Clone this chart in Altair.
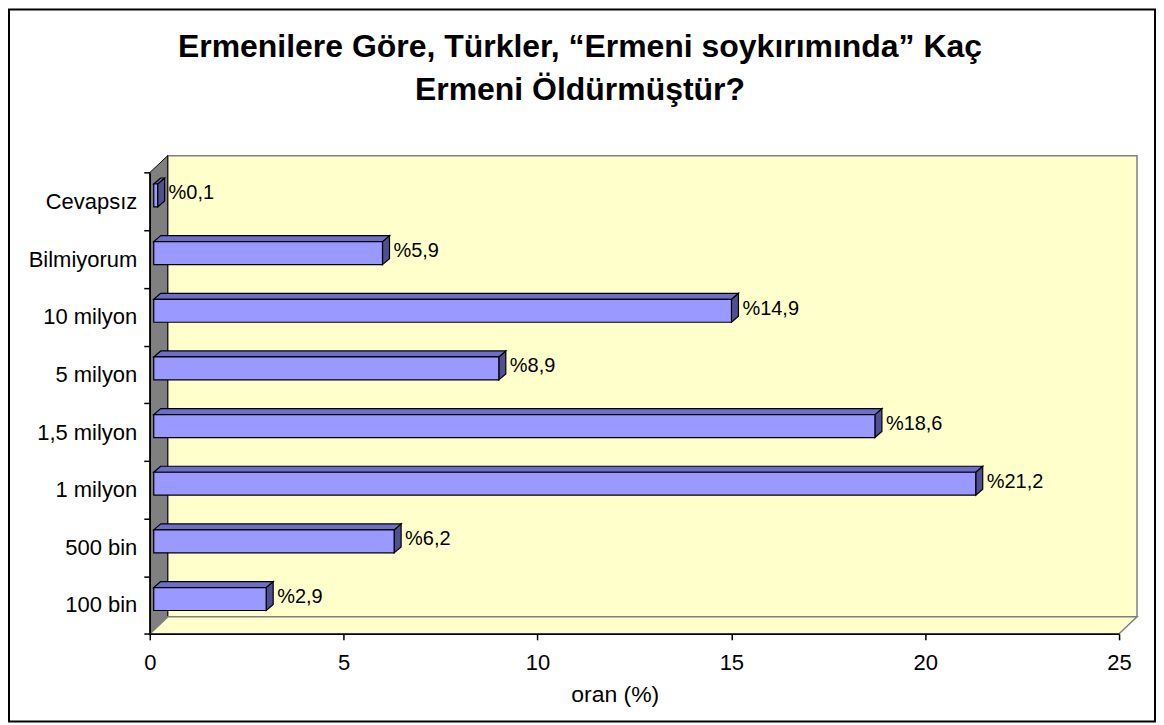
import altair as alt
import pandas as pd

# ---------------- data ----------------
categories = ["100 bin", "500 bin", "1 milyon", "1,5 milyon", "5 milyon",
              "10 milyon", "Bilmiyorum", "Cevapsız"]
values = [2.9, 6.2, 21.2, 18.6, 8.9, 14.9, 5.9, 0.1]
x_ticks = [0, 5, 10, 15, 20, 25]
title_lines = ["Ermenilere Göre, Türkler, “Ermeni soykırımında” Kaç",
               "Ermeni Öldürmüştür?"]
x_title = "oran (%)"

# ---------------- layout / style (pixels) ----------------
W, H = 1148, 713            # view = outer frame
X0, X1 = 141, 1112          # x scale range inside view
Y0, Y1 = 625.3, 163.3       # y scale range (bottom, top)
XMAX = 25
N = len(categories)
kx = (X1 - X0) / XMAX       # px per x unit
ky = (Y0 - Y1) / N          # px per category

WALL_DX, WALL_DY = 18, 17   # 3-D depth of the walls
BAR_DX, BAR_DY = 4, 6       # bar plane shift
BAR_H = 23                  # bar front-face thickness
FACE_DX, FACE_DY = 7, 6     # bar depth

FONT = "Liberation Sans"
WALL_FILL = "#FFFFCC"
SIDE_WALL = "#808080"
BAR_FRONT = "#9999FF"
BAR_TOP = "#6E6EC8"
BAR_SIDE = "#505090"

ux = lambda px: px / kx
uy = lambda px: px / ky

# ---------------- derived tables ----------------
front_rows, top_rows, side_rows = [], [], []
for i, (cat, v) in enumerate(zip(categories, values)):
    c = i + 0.5 + uy(BAR_DY)
    x0 = ux(BAR_DX)
    x1 = x0 + v
    y0 = c - uy(BAR_H / 2)
    y1 = c + uy(BAR_H / 2)
    front_rows.append(dict(cat=cat, x0=x0, x1=x1, y0=y0, y1=y1, c=c,
                           label="%" + str(v).replace(".", ",")))
    top_rows.append(dict(cat=cat, yy=y1, xa=x0, xb=x1))
    top_rows.append(dict(cat=cat, yy=y1 + uy(FACE_DY), xa=x0 + ux(FACE_DX), xb=x1 + ux(FACE_DX)))
    side_rows.append(dict(cat=cat, xx=x1, ya=y0, yb=y1))
    side_rows.append(dict(cat=cat, xx=x1 + ux(FACE_DX), ya=y0 + uy(FACE_DY), yb=y1 + uy(FACE_DY)))

front = pd.DataFrame(front_rows)
top = pd.DataFrame(top_rows)
side = pd.DataFrame(side_rows)

back_wall = pd.DataFrame([dict(x0=ux(WALL_DX), x1=XMAX + ux(WALL_DX),
                               y0=uy(WALL_DY), y1=N + uy(WALL_DY))])
left_wall = pd.DataFrame([dict(xx=0, ya=0, yb=N),
                          dict(xx=ux(WALL_DX), ya=uy(WALL_DY), yb=N + uy(WALL_DY))])
floor = pd.DataFrame([dict(yy=0, xa=0, xb=XMAX),
                      dict(yy=uy(WALL_DY), xa=ux(WALL_DX), xb=XMAX + ux(WALL_DX))])

# ---------------- scales / axes ----------------
xs = alt.Scale(domain=[0, XMAX], range=[X0, X1], nice=False, zero=False)
ys = alt.Scale(domain=[0, N], range=[Y0, Y1], nice=False, zero=False)

arr = "[" + ",".join("'" + c + "'" for c in categories) + "]"
xaxis = alt.Axis(values=x_ticks, title=x_title, grid=False, format="d",
                 domainColor="black", domainWidth=1.5, tickColor="black",
                 tickWidth=1.5, tickSize=6, labelFont=FONT, labelFontSize=22,
                 labelColor="black", labelPadding=30, labelBaseline="alphabetic",
                 labelFlush=False, labelOverlap=False,
                 titleFont=FONT, titleFontSize=23, titleFontWeight="normal",
                 titleColor="black", titleX=606.8, titleY=67.4,
                 titleBaseline="alphabetic", offset=-(H - Y0), zindex=1)
yaxis = alt.Axis(values=list(range(N + 1)),
                 labelExpr=f"datum.value < {N} ? {arr}[datum.value] : ''",
                 labelOffset=-ky / 2, title=None, grid=False,
                 domainColor="black", domainWidth=1.5, tickColor="black",
                 tickWidth=1.5, tickSize=6, labelFont=FONT, labelFontSize=22,
                 labelColor="black", labelPadding=7, labelBaseline="middle",
                 labelOverlap=False, offset=-X0, zindex=1)

# ---------------- layers ----------------
wall = alt.Chart(back_wall).mark_rect(fill=WALL_FILL, stroke=SIDE_WALL, strokeWidth=1.5).encode(
    x=alt.X("x0:Q", scale=xs, axis=xaxis), x2="x1:Q",
    y=alt.Y("y0:Q", scale=ys, axis=yaxis), y2="y1:Q")

lwall = alt.Chart(left_wall).mark_area(fill=SIDE_WALL, stroke="black", strokeWidth=1,
                                       orient="vertical").encode(
    x=alt.X("xx:Q", scale=xs, axis=xaxis),
    y=alt.Y("ya:Q", scale=ys, axis=yaxis), y2="yb:Q")

flr = alt.Chart(floor).mark_area(fill=WALL_FILL, stroke=SIDE_WALL, strokeWidth=1.5,
                                  orient="horizontal").encode(
    y=alt.Y("yy:Q", scale=ys, axis=yaxis),
    x=alt.X("xa:Q", scale=xs, axis=xaxis), x2="xb:Q")

bar_side = alt.Chart(side).mark_area(fill=BAR_SIDE, stroke="black", strokeWidth=1.2,
                                     orient="vertical").encode(
    x=alt.X("xx:Q", scale=xs, axis=xaxis),
    y=alt.Y("ya:Q", scale=ys, axis=yaxis), y2="yb:Q", detail="cat:N")

bar_top = alt.Chart(top).mark_area(fill=BAR_TOP, stroke="black", strokeWidth=1.2,
                                   orient="horizontal").encode(
    y=alt.Y("yy:Q", scale=ys, axis=yaxis),
    x=alt.X("xa:Q", scale=xs, axis=xaxis), x2="xb:Q", detail="cat:N")

bar_front = alt.Chart(front).mark_rect(fill=BAR_FRONT, stroke="black", strokeWidth=1.2).encode(
    x=alt.X("x0:Q", scale=xs, axis=xaxis), x2="x1:Q",
    y=alt.Y("y0:Q", scale=ys, axis=yaxis), y2="y1:Q")

labels = alt.Chart(front).mark_text(align="left", baseline="alphabetic", dx=11, dy=4,
                                    font=FONT, fontSize=20, color="black").encode(
    x=alt.X("x1:Q", scale=xs, axis=xaxis),
    y=alt.Y("c:Q", scale=ys, axis=yaxis), text="label:N")

chart = alt.layer(wall, lwall, flr, bar_side, bar_top, bar_front, labels).properties(
    width=W, height=H,
    autosize=alt.AutoSizeParams(type="none"),
    padding={"left": 1, "top": 1, "right": 1, "bottom": 1},
    background="white",
    title=alt.TitleParams(text=title_lines, font=FONT, fontSize=32, fontWeight="bold",
                          color="black", lineHeight=44, anchor="middle", frame="group",
                          offset=0, dy=98, dx=-2),
).configure_view(stroke="black", strokeWidth=2, fill="white")

chart.save("out.html", embed_options={"renderer": "svg", "actions": False})
